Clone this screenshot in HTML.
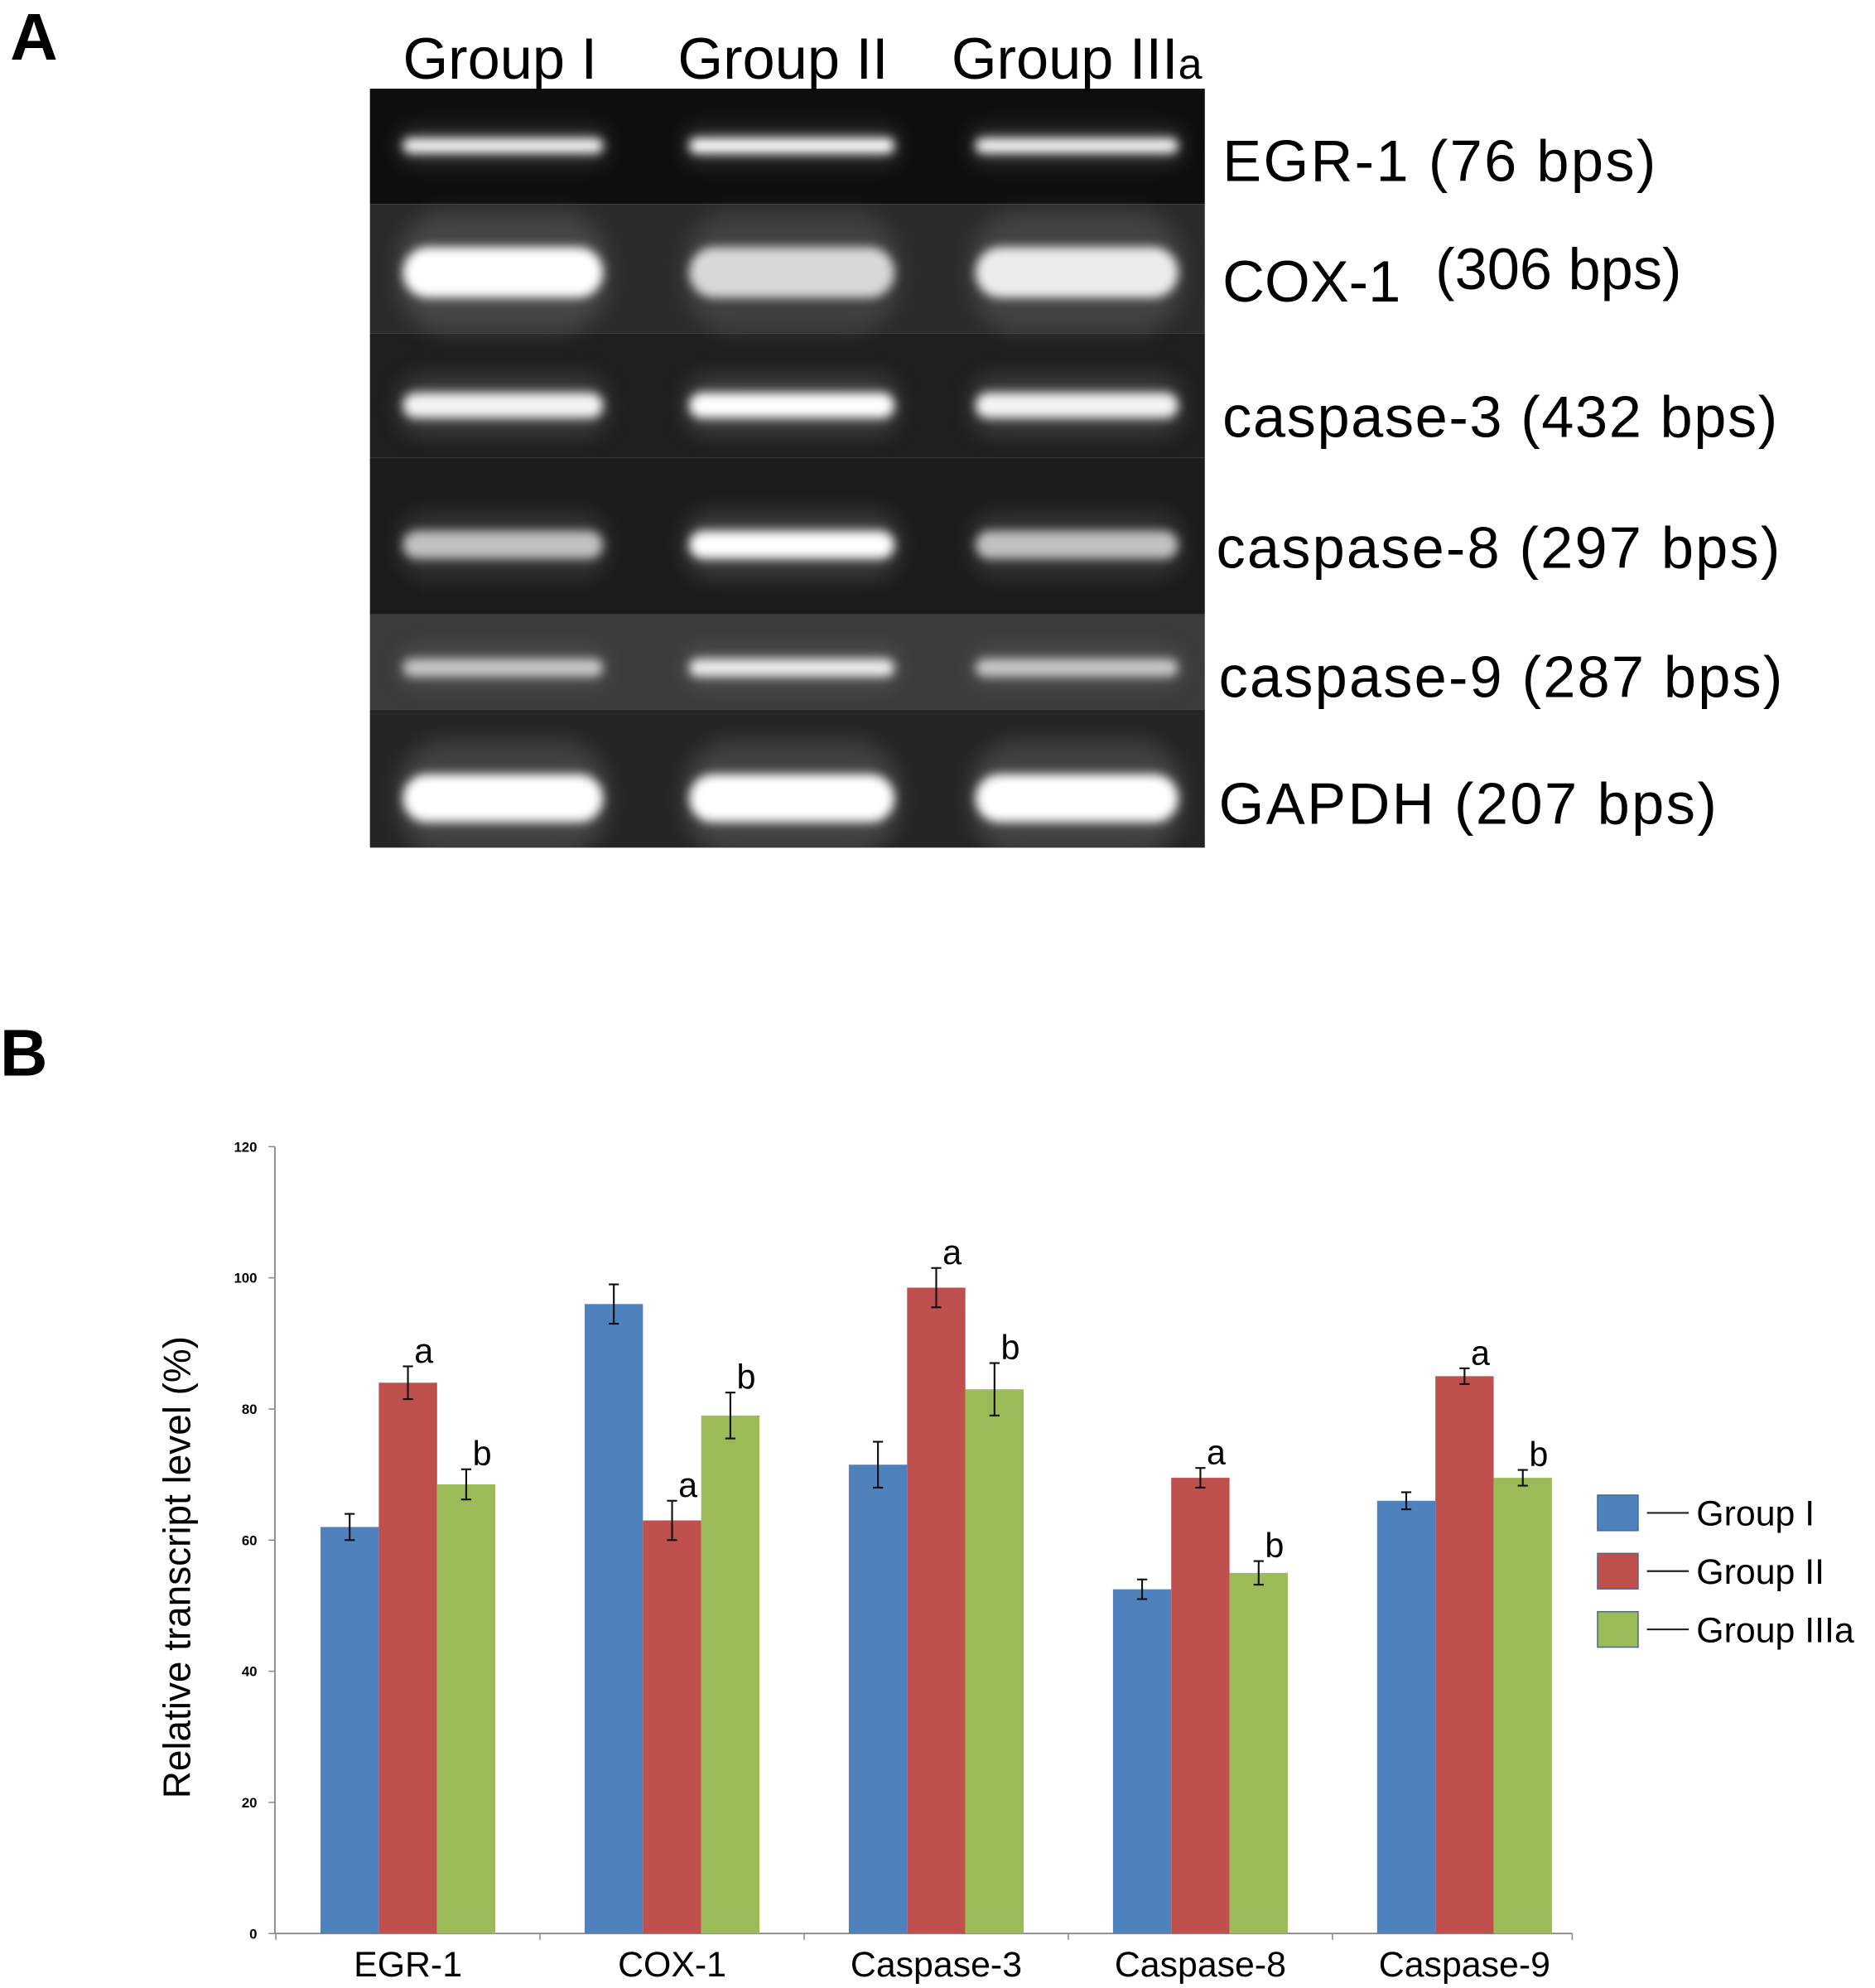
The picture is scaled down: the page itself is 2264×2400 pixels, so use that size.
<!DOCTYPE html>
<html><head><meta charset="utf-8">
<style>
html,body{margin:0;padding:0;background:#fff;}
svg{display:block;}
text{font-family:"Liberation Sans",Arial,sans-serif;}
</style></head>
<body>
<svg id="fig" width="2264" height="2400" viewBox="0 0 1480 1569" preserveAspectRatio="none" xmlns="http://www.w3.org/2000/svg">
<defs>
<filter id="b4" x="-20%" y="-100%" width="140%" height="300%"><feGaussianBlur stdDeviation="4"/></filter>
<filter id="b8" x="-20%" y="-100%" width="140%" height="300%"><feGaussianBlur stdDeviation="8"/></filter>
<clipPath id="gelclip"><rect x="292" y="70" width="659" height="599"/></clipPath>
</defs>
<text x="8" y="47" font-size="52" font-weight="bold">A</text>
<text x="0" y="849" font-size="52" font-weight="bold">B</text>

<g>
<rect x="292" y="70" width="659" height="91" fill="#0e0e0e"/>
<rect x="292" y="161" width="659" height="102" fill="#2b2b2b"/>
<rect x="292" y="263" width="659" height="98" fill="#1f1f1f"/>
<rect x="292" y="361" width="659" height="124" fill="#1c1c1c"/>
<rect x="292" y="485" width="659" height="75" fill="#3c3c3c"/>
<rect x="292" y="560" width="659" height="109" fill="#252525"/>
<g id="bands" clip-path="url(#gelclip)"></g>
</g>
<g font-size="46">
<text x="318" y="62">Group I</text>
<text x="535" y="62">Group II</text>
<text x="751" y="62">Group III<tspan font-size="34">a</tspan></text>
</g>
<g font-size="46">
<text x="965" y="143" textLength="342">EGR-1 (76 bps)</text>
<text x="965" y="238">COX-1</text><text x="1133" y="228">(306 bps)</text>
<text x="965" y="345" textLength="438">caspase-3 (432 bps)</text>
<text x="960" y="448" textLength="445">caspase-8 (297 bps)</text>
<text x="962" y="550" textLength="445">caspase-9 (287 bps)</text>
<text x="962" y="650" textLength="393">GAPDH (207 bps)</text>
</g>

<g id="chart"></g>
</svg>
<script>
const categories = ["EGR-1","COX-1","Caspase-3","Caspase-8","Caspase-9"];
const seriesNames = ["Group I","Group II","Group III a"];
const groupI = [62, 96, 71.5, 52.5, 66];
const groupII = [84, 63, 98.5, 69.5, 85];
const groupIII = [68.5, 79, 83, 55, 69.5];
const errI = [2, 3, 3.5, 1.5, 1.3];
const errII = [2.5, 3, 3, 1.5, 1.2];
const errIII = [2.3, 3.5, 4, 1.8, 1.2];
const lettersII = ["a","a","a","a","a"];
const lettersIII = ["b","b","b","b","b"];
const yTicks = [0,20,40,60,80,100,120];
const colors = ["#4f81bd","#c0504d","#9bbb59"];

const NS="http://www.w3.org/2000/svg";
const chart=document.getElementById('chart');
const X0=217, X1=1241, Y0=1526, Y1=905, YMAX=120;
const firstCenter=322, catW=208.5;
const barW=46;
function yS(v){return Y0-(v/YMAX)*(Y0-Y1);}
function xCat(i){return firstCenter+catW*i;}
function mk(tag,attrs,parent){const e=document.createElementNS(NS,tag);for(const k in attrs)e.setAttribute(k,attrs[k]);(parent||chart).appendChild(e);return e;}

let ax=mk('line',{x1:X0,y1:Y1,x2:X0,y2:Y0,stroke:'#888','stroke-width':1.2});


let axx=mk('line',{x1:X0,y1:Y0,x2:X1,y2:Y0,stroke:'#888','stroke-width':1.2});


yTicks.forEach(t=>{
  mk('line',{x1:X0-5,y1:yS(t),x2:X0,y2:yS(t),stroke:'#888','stroke-width':1});
  const tx=mk('text',{x:203,y:yS(t)+4,'font-size':11,'font-weight':'bold','text-anchor':'end','font-family':'Liberation Serif,serif'});
  tx.textContent=t;
  
  
});
for(let i=0;i<=categories.length;i++){
  const tx=Math.min(X1, xCat(i)-catW/2);
  mk('line',{x1:tx,y1:Y0,x2:tx,y2:Y0+5,stroke:'#888','stroke-width':1});
}
const yt=mk('text',{x:0,y:0,'font-size':30,'text-anchor':'middle',transform:'translate(150,1237) rotate(-90)'});
yt.textContent='Relative transcript level (%)';



const series=[groupI,groupII,groupIII];
const errs=[errI,errII,errIII];
categories.forEach((c,i)=>{
  const cx=xCat(i);
  series.forEach((s,j)=>{
    const x=cx-1.5*barW+j*barW;
    const r=mk('rect',{x:x,y:yS(s[i]),width:barW,height:Y0-yS(s[i]),fill:colors[j]});
    
    
    const mx=x+barW/2, e=errs[j][i];
    mk('line',{x1:mx,y1:yS(s[i]+e),x2:mx,y2:yS(s[i]-e),stroke:'#111','stroke-width':1.4});
    mk('line',{x1:mx-4,y1:yS(s[i]+e),x2:mx+4,y2:yS(s[i]+e),stroke:'#111','stroke-width':1.4});
    mk('line',{x1:mx-4,y1:yS(s[i]-e),x2:mx+4,y2:yS(s[i]-e),stroke:'#111','stroke-width':1.4});
    let L=j===1?lettersII[i]:(j===2?lettersIII[i]:null);
    if(L){
      const lt=mk('text',{x:mx+5,y:yS(s[i]+e)-3,'font-size':27});
      lt.textContent=L;
      
      
    }
  });
  const xl=mk('text',{x:cx,y:1560,'font-size':28,'text-anchor':'middle'});
  xl.textContent=c;
  
  
});
seriesNames.forEach((n,j)=>{
  const y=1180+j*46;
  const g=mk('g',{});
  
  
  mk('rect',{x:1261,y:y,width:32,height:28,fill:colors[j],stroke:'#4a6a90','stroke-width':1},g);
  mk('line',{x1:1300,y1:y+14,x2:1333,y2:y+14,stroke:'#222','stroke-width':1.4},g);
  const t=mk('text',{x:1339,y:y+24,'font-size':28},g);
  t.textContent=n.replace('III a','III');
  if(j===2){const ts=mk('tspan',{},t);ts.textContent='a';}
});

const bands=document.getElementById('bands');
const lanes=[[308,486],[534,716],[760,940]];
const rowY=[115,215,320,430,527,630];
const rowH=[12,40,20,22,14,38];
const intens=[[0.95,1,0.95],[1,0.8,0.9],[0.95,1,0.95],[0.7,1,0.7],[0.7,0.9,0.7],[1,1,1]];
rowY.forEach((cy,r)=>{
  lanes.forEach((ln,k)=>{
    const w=ln[1]-ln[0];
    mk('rect',{x:ln[0]+6,y:cy-rowH[r]*1.2,width:w-12,height:rowH[r]*2.4,rx:rowH[r],fill:'#777',opacity:0.35*intens[r][k],filter:'url(#b8)'},bands);
    mk('rect',{x:ln[0]+10,y:cy-rowH[r]/2,width:w-20,height:rowH[r],rx:rowH[r]/2,fill:'#fff',opacity:intens[r][k],filter:'url(#b4)'},bands);
  });
});
</script>
</body></html>
